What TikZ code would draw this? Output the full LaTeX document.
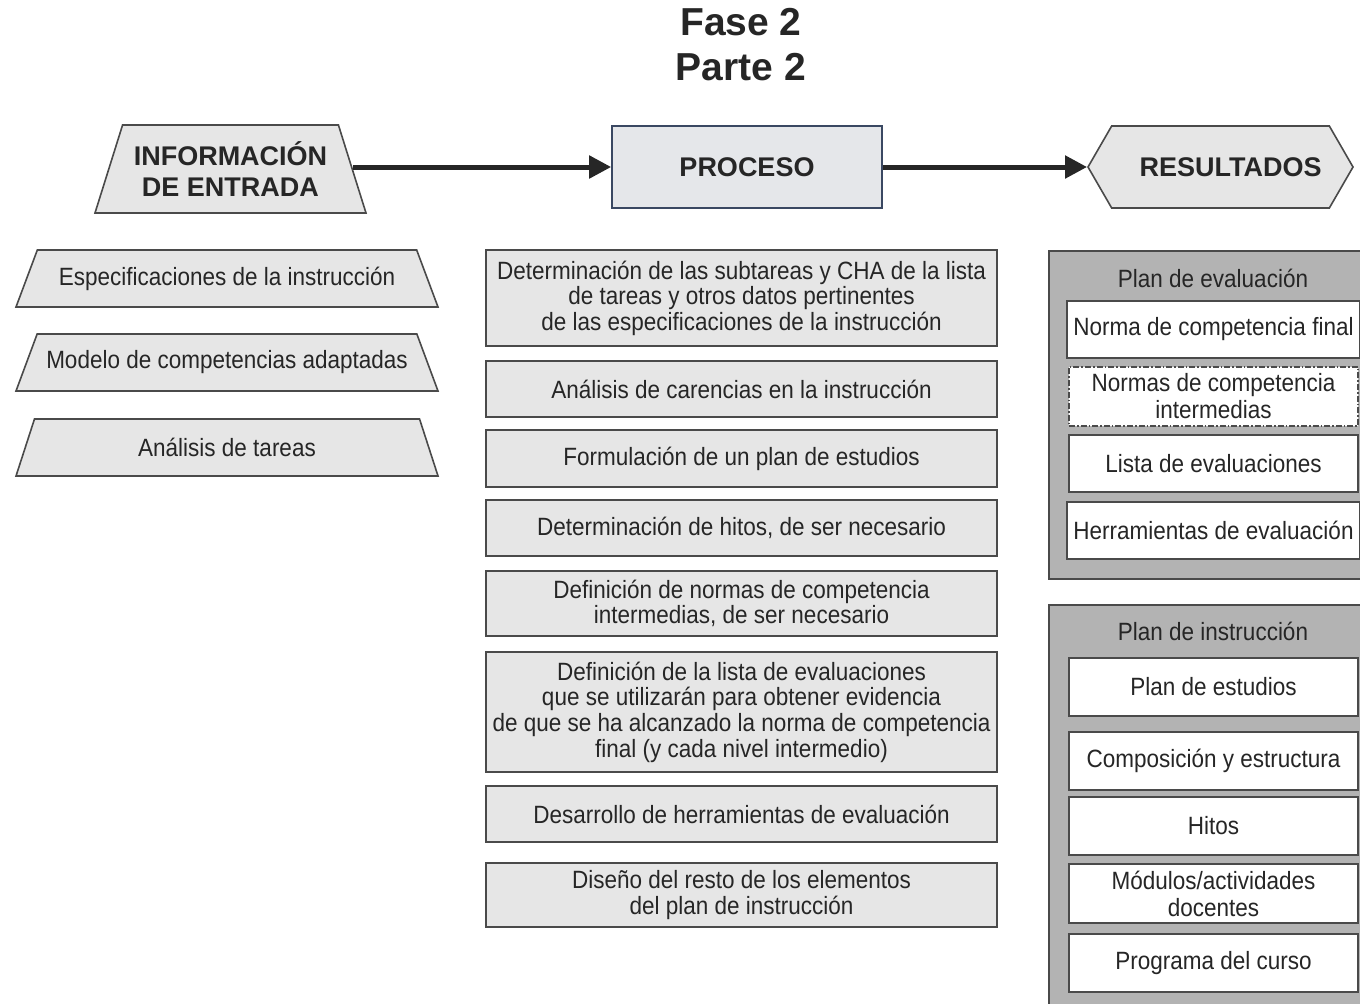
\documentclass[tikz,border=0pt]{standalone}
\usepackage{fontspec}
\setmainfont{Liberation Sans}
\newfontfamily\narrowfont[FakeStretch=0.9]{Liberation Sans}
\usetikzlibrary{positioning,arrows.meta,shapes.geometric,shapes.symbols}
\definecolor{boxgray}{HTML}{E6E6E6}
\definecolor{procfill}{HTML}{E5E7EA}
\definecolor{procblue}{HTML}{3A4862}
\definecolor{panelgray}{HTML}{B3B3B3}
\definecolor{linegray}{HTML}{4A4A4A}
\definecolor{textgray}{HTML}{262626}
\tikzset{
>={Triangle[length=11pt,width=11pt]},
title/.style={font=\bfseries\fontsize{19.5}{22.5}\selectfont, text=textgray, align=center},
header/.style={draw=linegray, thick, fill=boxgray, font=\bfseries\fontsize{13.5}{15.5}\selectfont, text=textgray, align=center},
inbox/.style={trapezium, trapezium left angle=60, trapezium right angle=60, trapezium stretches body, draw=linegray, thick, fill=boxgray, minimum width=211pt, minimum height=28.5pt, font=\narrowfont\fontsize{12.5}{13}\selectfont, text=textgray, align=center, outer sep=0pt},
procbox/.style={rectangle, draw=linegray, thick, fill=boxgray, minimum width=255.5pt, font=\narrowfont\fontsize{12.5}{12.8}\selectfont, text=textgray, align=center, outer sep=0pt},
panel/.style={rectangle, draw=linegray, thick, fill=panelgray, minimum width=163pt},
paneltitle/.style={font=\narrowfont\fontsize{12.5}{13}\selectfont, text=textgray},
outbox/.style={rectangle, draw=linegray, thick, fill=white, minimum width=144.5pt, minimum height=28.5pt, font=\narrowfont\fontsize{12.5}{13.5}\selectfont, text=textgray, align=center, outer sep=0pt},
arrow/.style={draw=textgray, line width=2.5pt, ->},
}
\begin{document}
\begin{tikzpicture}[x=0.5pt, y=-0.5pt]
\useasboundingbox (0,0) rectangle (1360,1003);

\node[title] (fase) at (741,45) {Fase 2\\Parte 2};

% cabecera
\node[header, trapezium, trapezium left angle=68, trapezium right angle=68, trapezium stretches body, minimum width=135.5pt, minimum height=44pt] (entrada) at (230.5,169) {INFORMACIÓN\\DE ENTRADA};
\node[header, fill=procfill, draw=procblue, minimum width=135pt, minimum height=41pt] (proceso) at (747,167) {PROCESO};
\node[header, signal, signal to=west and east, signal pointer angle=120, minimum width=132.5pt, minimum height=41pt] (resultados) at (1220.5,167) {\hspace{10pt}RESULTADOS};

\draw[arrow] (entrada.east |- proceso) -- (proceso.west);
\draw[arrow] (proceso.east) -- (resultados.west);

% informacion de entrada
\node[inbox] (espec) at (227,278.5) {Especificaciones de la instrucción};
\node[inbox, below=13.5pt of espec] (modelo) {Modelo de competencias adaptadas};
\node[inbox, below=14pt of modelo] (tareas) {Análisis de tareas};

% proceso
\node[procbox, minimum height=48pt] (subtareas) at (741.5,298) {Determinación de las subtareas y CHA de la lista\\de tareas y otros datos pertinentes\\de las especificaciones de la instrucción};
\node[procbox, minimum height=28pt, below=7.5pt of subtareas] (carencias) {Análisis de carencias en la instrucción};
\node[procbox, minimum height=28.5pt, below=6.5pt of carencias] (formulacion) {Formulación de un plan de estudios};
\node[procbox, minimum height=28pt, below=6.5pt of formulacion] (hitos) {Determinación de hitos, de ser necesario};
\node[procbox, minimum height=32.5pt, below=7.5pt of hitos] (normas) {Definición de normas de competencia\\intermedias, de ser necesario};
\node[procbox, minimum height=60pt, below=8pt of normas] (lista) {Definición de la lista de evaluaciones\\que se utilizarán para obtener evidencia\\de que se ha alcanzado la norma de competencia\\final (y cada nivel intermedio)};
\node[procbox, minimum height=28pt, below=7pt of lista] (herram) {Desarrollo de herramientas de evaluación};
\node[procbox, minimum height=32pt, below=10.5pt of herram] (diseno) {Diseño del resto de los elementos\\del plan de instrucción};

% resultados
\node[panel, minimum height=164pt] (evalpanel) at (1212,415) {};
\node[paneltitle] (evaltitle) at (1213,278) {Plan de evaluación};
\node[outbox] (normafinal) at (1213.5,329.5) {Norma de competencia final};
\node[outbox, below=4.5pt of normafinal, densely dashdotted] (normasinter) {Normas de competencia\\intermedias};
\node[outbox, below=4.5pt of normasinter] (listaeval) {Lista de evaluaciones};
\node[outbox, below=5pt of listaeval] (herreval) {Herramientas de evaluación};

\node[panel, minimum height=202.5pt] (instrpanel) at (1212,807.5) {};
\node[paneltitle] (instrtitle) at (1213,631) {Plan de instrucción};
\node[outbox, minimum height=29pt] (estudios) at (1213.5,687) {Plan de estudios};
\node[outbox, minimum height=29pt, below=8pt of estudios] (compos) {Composición y estructura};
\node[outbox, minimum height=29pt, below=3.5pt of compos] (hitosout) {Hitos};
\node[outbox, minimum height=29pt, below=4.5pt of hitosout] (modulos) {Módulos/actividades\\docentes};
\node[outbox, minimum height=29pt, below=5.5pt of modulos] (programa) {Programa del curso};

\end{tikzpicture}
\end{document}
